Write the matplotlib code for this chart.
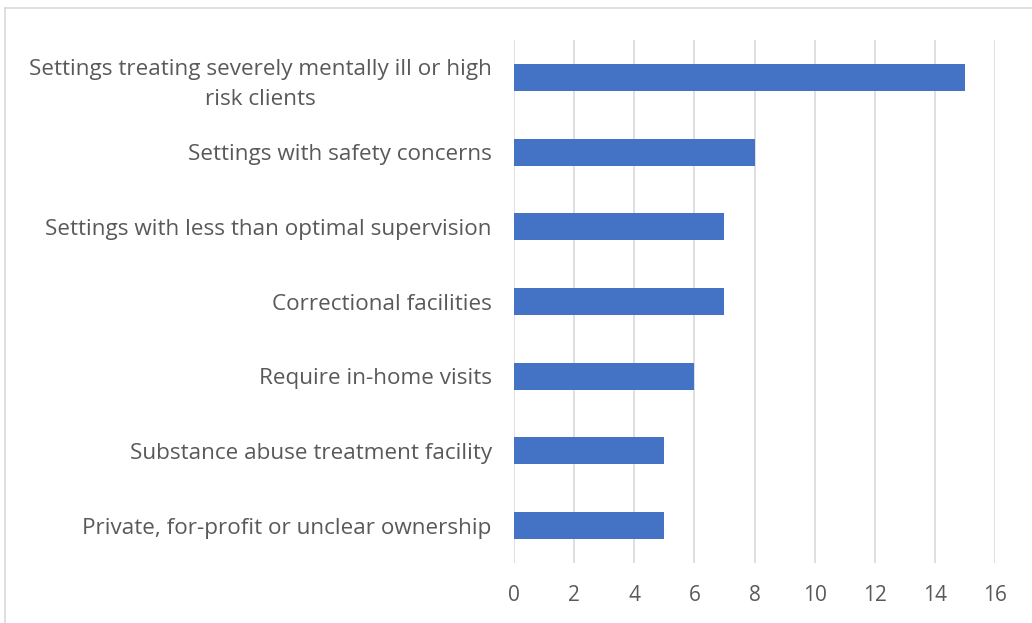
import numpy as np
import matplotlib.pyplot as plt
from matplotlib.lines import Line2D

categories = [
    "Settings treating severely mentally ill or high\nrisk clients",
    "Settings with safety concerns",
    "Settings with less than optimal supervision",
    "Correctional facilities",
    "Require in-home visits",
    "Substance abuse treatment facility",
    "Private, for-profit or unclear ownership",
]
values = [15, 8, 7, 7, 6, 5, 5]
xticks = [0, 2, 4, 6, 8, 10, 12, 14, 16]

plt.rcParams['font.family'] = ['Open Sans', 'DejaVu Sans']

fig = plt.figure(figsize=(10.32, 6.23), dpi=100)
ax = fig.add_axes([514 / 1032, 1 - 563 / 623, (995 - 514) / 1032, (563 - 40) / 623])

y = np.arange(len(categories))
ax.barh(y, values, height=0.36, color='#4472C4', zorder=3)
ax.set_ylim(len(categories) - 0.5, -0.5)
ax.set_xlim(0, 16)
ax.set_xticks(xticks)
ax.set_yticks(y)
ax.set_yticklabels(categories, multialignment='center', linespacing=1.6)
ax.tick_params(axis='y', length=0, pad=16, labelsize=16.2, labelcolor='#595959')
ax.tick_params(axis='x', length=0, pad=16, labelsize=15, labelcolor='#595959')
ax.grid(axis='x', color='#d9d9d9', linewidth=1.2, zorder=0)
for s in ax.spines.values():
    s.set_visible(False)

# chart border (top and left edges visible)
fig.add_artist(Line2D([5 / 1032, 1], [1 - 8 / 623, 1 - 8 / 623], color='#d9d9d9', lw=1.2))
fig.add_artist(Line2D([5 / 1032, 5 / 1032], [0, 1 - 8 / 623], color='#d9d9d9', lw=1.2))

fig.savefig('out.png', dpi=100)
